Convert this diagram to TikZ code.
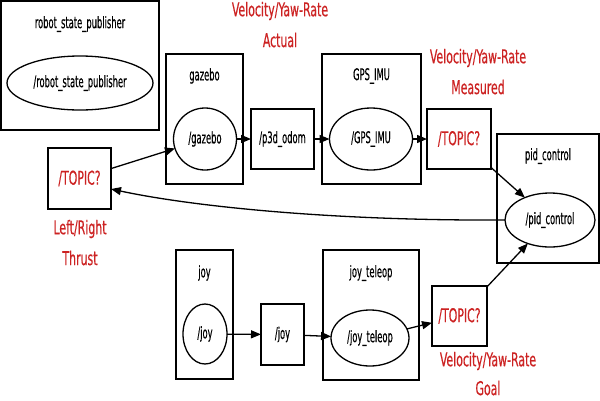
\documentclass[tikz,border=0pt]{standalone}
\usepackage{fontspec}
\setmainfont[FakeStretch=0.64,FakeBold=0.4]{DejaVu Sans Condensed}
\newfontfamily\blkfont[FakeStretch=0.58,FakeBold=0.4]{DejaVu Sans Condensed}
\usetikzlibrary{arrows.meta,calc,shapes.geometric}
\definecolor{lblred}{RGB}{204,34,34}
\tikzset{
  every node/.style={inner sep=0pt, outer sep=0pt},
  cluster/.style={draw, line width=1.3pt, rectangle},
  ctitle/.style={font=\blkfont\fontsize{16}{18}\selectfont},
  nodeell/.style={draw, line width=1.3pt, ellipse, font=\blkfont\fontsize{16}{18}\selectfont},
  topicbox/.style={draw, line width=1.3pt, rectangle, font=\blkfont\fontsize{16}{18}\selectfont},
  redtopic/.style={draw, line width=1.3pt, rectangle, text=lblred, font=\fontsize{19}{21}\selectfont},
  redlbl/.style={text=lblred, font=\fontsize{19}{21}\selectfont},
  conn/.style={line width=1.3pt, -{Triangle[length=10pt,width=8pt]}}
}
\begin{document}
\begin{tikzpicture}[x=1pt,y=-1pt]
\useasboundingbox (0,0) rectangle (600,400);
% clusters
\node[cluster, minimum width=158pt, minimum height=129pt] (rspC) at (80,65.5) {};
\node[ctitle] (rspT) at (80,24) {robot\_state\_publisher};
\node[nodeell, minimum width=146pt, minimum height=54pt] (rspE) at (80,83) {/robot\_state\_publisher};

\node[cluster, minimum width=77pt, minimum height=130pt] (gzC) at (204.5,119) {};
\node[ctitle] (gzT) at (204.5,76) {gazebo};
\node[nodeell, minimum width=63pt, minimum height=62pt] (gzE) at (205,139) {/gazebo};

\node[topicbox, minimum width=63pt, minimum height=60pt] (odom) at (282.5,139) {/p3d\_odom};

\node[cluster, minimum width=99pt, minimum height=130pt] (gpsC) at (371.5,119) {};
\node[ctitle] (gpsT) at (371.5,76) {GPS\_IMU};
\node[nodeell, minimum width=83pt, minimum height=62pt] (gpsE) at (371,139) {/GPS\_IMU};

\node[redtopic, minimum width=64pt, minimum height=60pt] (topM) at (459,139) {/TOPIC?};

\node[cluster, minimum width=102pt, minimum height=129pt] (pidC) at (548,198.5) {};
\node[ctitle] (pidT) at (548,156) {pid\_control};
\node[nodeell, minimum width=90pt, minimum height=54pt] (pidE) at (550,220) {/pid\_control};

\node[redtopic, minimum width=63pt, minimum height=61pt] (topL) at (79.5,178.5) {/TOPIC?};

\node[cluster, minimum width=57pt, minimum height=129pt] (joyC) at (204.5,314.5) {};
\node[ctitle] (joyT) at (204.5,273) {joy};
\node[nodeell, minimum width=44pt, minimum height=60pt] (joyE) at (205,334) {/joy};

\node[topicbox, minimum width=43pt, minimum height=61pt] (joyTop) at (282.5,334.5) {/joy};

\node[cluster, minimum width=96pt, minimum height=130pt] (jtC) at (371,315) {};
\node[ctitle] (jtT) at (371,273) {joy\_teleop};
\node[nodeell, minimum width=78pt, minimum height=56pt] (jtE) at (370,338) {/joy\_teleop};

\node[redtopic, minimum width=55pt, minimum height=60pt] (topG) at (459.5,316) {/TOPIC?};

% red labels
\node[redlbl] (la1) at (280,11) {Velocity/Yaw-Rate};
\node[redlbl] (la2) at (280,40) {Actual};
\node[redlbl] (lm1) at (478,58) {Velocity/Yaw-Rate};
\node[redlbl] (lm2) at (478,87) {Measured};
\node[redlbl] (ll1) at (80,229) {Left/Right};
\node[redlbl] (ll2) at (80,258) {Thrust};
\node[redlbl] (lg1) at (488,361) {Velocity/Yaw-Rate};
\node[redlbl] (lg2) at (488,388) {Goal};

% connectors
\draw[conn] (topL) -- (gzE);
\draw[conn] (gzE) -- (odom);
\draw[conn] (odom) -- (gpsE);
\draw[conn] (gpsE) -- (topM);
\draw[conn] (topM) -- (pidE);
\draw[conn] (pidE.west) .. controls (330,221) and (190,206) .. ($(topL.east)+(0,10.5)$);
\draw[conn] (joyE) -- (joyTop);
\draw[conn] (joyTop) -- (jtE);
\draw[conn] (jtE) -- (topG);
\draw[conn] (topG) -- (pidE);
\end{tikzpicture}
\end{document}
